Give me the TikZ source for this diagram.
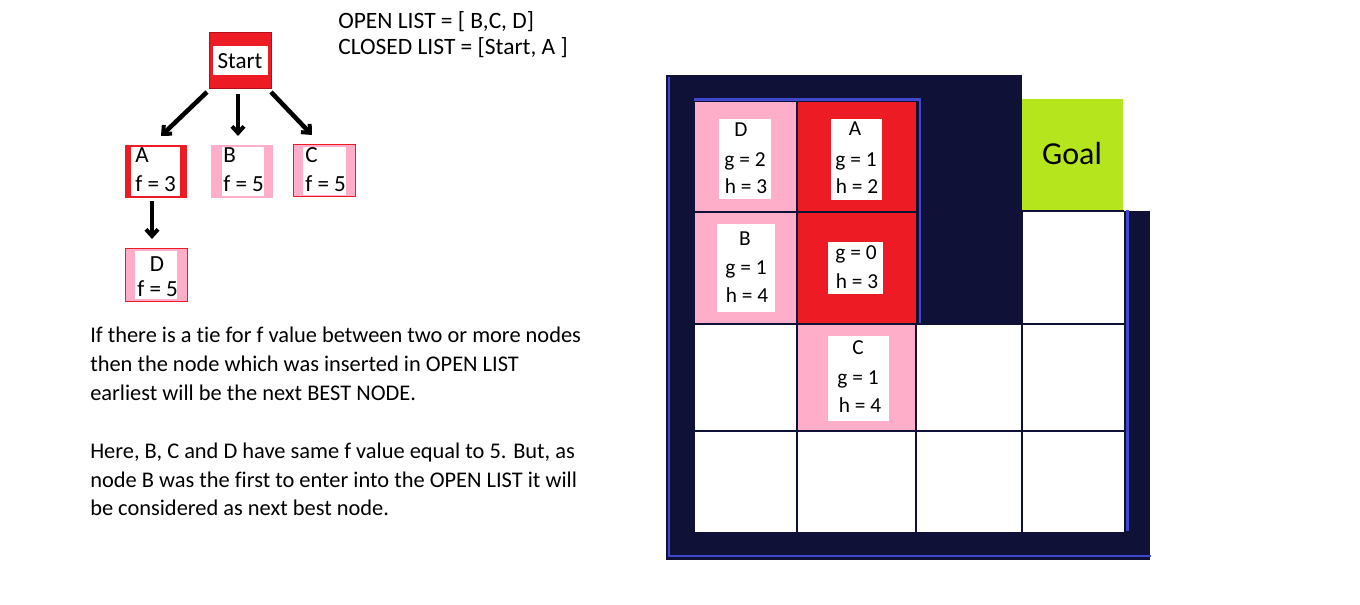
\documentclass[tikz,border=0pt]{standalone}
\usepackage{fontspec}
\setmainfont{Carlito}[Ligatures={NoCommon}]
\usetikzlibrary{arrows.meta}
\definecolor{navy}{HTML}{0F1136}
\definecolor{frameblue}{HTML}{3F48CC}
\definecolor{cellred}{HTML}{ED1C24}
\definecolor{cellpink}{HTML}{FFAEC9}
\definecolor{goalgreen}{HTML}{B5E61D}
\definecolor{darkred}{HTML}{B0101A}
\begin{document}
\begin{tikzpicture}[x=0.75pt,y=-0.75pt,
  txt/.style={inner sep=0pt,font=\fontsize{16}{19}\selectfont},
  ttxt/.style={inner sep=0pt,font=\fontsize{17.3}{20}\selectfont},
  ltxt/.style={inner sep=0pt,anchor=base west,font=\fontsize{17.6}{21}\selectfont},
  para/.style={inner sep=0pt,anchor=base west,font=\fontsize{16.8}{20}\selectfont},
  box/.style={anchor=north west,inner sep=0pt,outer sep=0pt},
  wbox/.style={anchor=north west,inner sep=0pt,outer sep=0pt,fill=white},
  arr/.style={line width=3.4pt,-{Straight Barb[length=5pt,width=9pt,line width=3pt]}},
  grid/.style={navy,line width=0.9pt},
  blue/.style={frameblue,line width=2.2pt}]
\useasboundingbox (0,0) rectangle (1360,605);
\fill[white] (0,0) rectangle (1360,605);

% ---------- tree ----------
\node[box,fill=cellred,draw=darkred,line width=0.6pt,minimum width=46.5pt,minimum height=42pt] (start) at (209,32) {};
\node[wbox,minimum width=41.25pt,minimum height=21.75pt] (startw) at (213,46) {};
\node[ttxt,anchor=base] (starttxt) at (240,69) {Start};

\node[box,fill=cellred,minimum width=46.5pt,minimum height=39.75pt] (na) at (125,145) {};
\node[wbox,minimum width=36.75pt,minimum height=36.75pt] (naw) at (131,147) {};
\node[ttxt,anchor=base west] (nat1) at (135,163) {A};
\node[ttxt,anchor=base west] (nat2) at (135,192) {f = 3};

\node[box,fill=cellpink,minimum width=46.5pt,minimum height=39.75pt] (nb) at (211,145) {};
\node[wbox,minimum width=31.5pt,minimum height=36.75pt] (nbw) at (222,147) {};
\node[ttxt,anchor=base west] (nbt1) at (223,163) {B};
\node[ttxt,anchor=base west] (nbt2) at (223,192) {f = 5};

\node[box,fill=cellpink,draw=cellred,line width=0.75pt,minimum width=46.5pt,minimum height=39pt] (nc) at (293,145) {};
\node[wbox,minimum width=32.25pt,minimum height=36pt] (ncw) at (303,147) {};
\node[ttxt,anchor=base west] (nct1) at (305,163) {C};
\node[ttxt,anchor=base west] (nct2) at (305,192) {f = 5};

\node[box,fill=cellpink,draw=cellred,line width=0.75pt,minimum width=46.5pt,minimum height=39.75pt] (nd) at (125,249) {};
\node[wbox,minimum width=31.5pt,minimum height=36pt] (ndw) at (135,251) {};
\node[ttxt,anchor=base] (ndt1) at (157,272) {D};
\node[ttxt,anchor=base west] (ndt2) at (137,297) {f = 5};

\coordinate (sa) at (207,92);  \coordinate (ea) at (161,136);
\coordinate (sb) at (238,94);  \coordinate (eb) at (238,136);
\coordinate (sc) at (271,92);  \coordinate (ec) at (312,135);
\coordinate (sd) at (152,201); \coordinate (ed) at (152,239);
\draw[arr] (sa) -- (ea);
\draw[arr] (sb) -- (eb);
\draw[arr] (sc) -- (ec);
\draw[arr] (sd) -- (ed);

% ---------- lists ----------
\node[ltxt] (open) at (338,29) {OPEN LIST = [ B,C, D]};
\node[ltxt] (closed) at (338,55) {CLOSED LIST = [Start, A ]};

% ---------- paragraphs ----------
\node[para] (p1) at (90,343) {If there is a tie for f value between two or more nodes};
\node[para] (p2) at (90,372) {then the node which was inserted in OPEN LIST};
\node[para] (p3) at (90,401) {earliest will be the next BEST NODE.};
\node[para] (p4) at (90,459) {Here, B, C and D have same f value equal to 5. But, as};
\node[para] (p5) at (90,488) {node B was the first to enter into the OPEN LIST it will};
\node[para] (p6) at (90,516) {be considered as next best node.};

% ---------- grid world ----------
\fill[navy] (666,75) rectangle (1022,324);
\fill[navy] (666,75) rectangle (695,560);
\fill[navy] (666,532) rectangle (1150,560);
\fill[navy] (1124,211) rectangle (1150,560);
\fill[white] (695,324) rectangle (1124,532);
\fill[white] (1022,211) rectangle (1124,324);
\fill[cellpink] (695,102) rectangle (797,324);
\fill[cellred] (797,102) rectangle (916,324);
\fill[cellpink] (797,324) rectangle (916,431);
\fill[goalgreen] (1022,99) rectangle (1123,211);

\draw[grid] (695,212) -- (916,212);
\draw[grid] (1022,211) -- (1124,211);
\draw[grid] (695,324) -- (1124,324);
\draw[grid] (695,431) -- (1124,431);
\draw[grid] (797,102) -- (797,532);
\draw[grid] (916,324) -- (916,532);
\draw[grid] (1022,211) -- (1022,532);

\draw[blue] (669,77) -- (669,556) -- (1151,556);
\draw[blue] (694,99.5) -- (920,99.5) -- (920,323);
\draw[blue] (1127.5,210) -- (1127.5,531);

\node[wbox,minimum width=39pt,minimum height=60pt] (wd) at (719,119) {};
\node[wbox,minimum width=38.25pt,minimum height=60.75pt] (wa) at (831,119) {};
\node[wbox,minimum width=43.5pt,minimum height=66pt] (wb) at (717,224) {};
\node[wbox,minimum width=41.25pt,minimum height=39pt] (ws) at (828,242) {};
\node[wbox,minimum width=45.75pt,minimum height=63.75pt] (wc) at (828,336) {};

\node[txt,anchor=base] (gd1) at (741,137) {D};
\node[txt,anchor=base] (gd2) at (745,167) {g = 2};
\node[txt,anchor=base] (gd3) at (746,194) {h = 3};
\node[txt,anchor=base] (ga1) at (855,136) {A};
\node[txt,anchor=base] (ga2) at (856,167) {g = 1};
\node[txt,anchor=base] (ga3) at (857,194) {h = 2};
\node[txt,anchor=base] (gb1) at (745,246) {B};
\node[txt,anchor=base] (gb2) at (746,275) {g = 1};
\node[txt,anchor=base] (gb3) at (747,303) {h = 4};
\node[txt,anchor=base] (gs2) at (856,260) {g = 0};
\node[txt,anchor=base] (gs3) at (857,289) {h = 3};
\node[txt,anchor=base] (gc1) at (858,355) {C};
\node[txt,anchor=base] (gc2) at (858,385) {g = 1};
\node[txt,anchor=base] (gc3) at (860,413) {h = 4};
\node[inner sep=0pt,anchor=base,font=\fontsize{24}{28}\selectfont] (goal) at (1072,165) {Goal};
\end{tikzpicture}
\end{document}
